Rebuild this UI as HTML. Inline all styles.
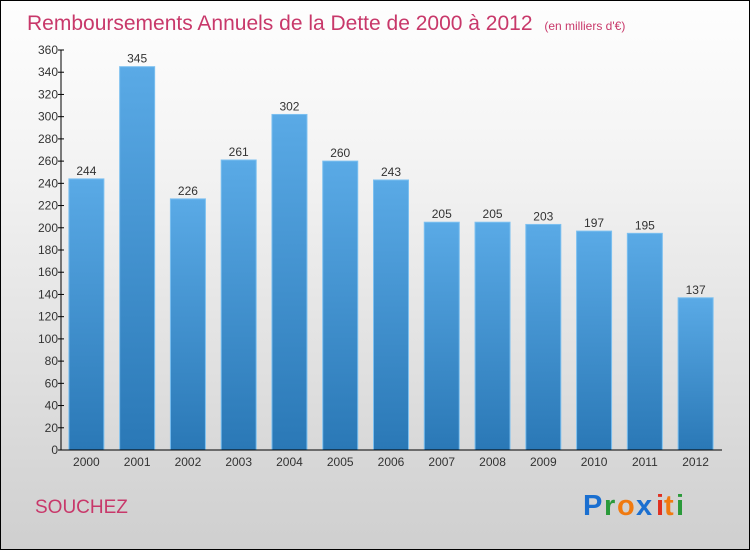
<!DOCTYPE html>
<html><head><meta charset="utf-8"><style>
body{margin:0}
#c{width:750px;height:550px;position:relative;box-sizing:border-box;border:1px solid #000;background:linear-gradient(#fefefe,#f3f3f3 30%,#cfcfcf);font-family:"Liberation Sans",sans-serif;overflow:hidden}
</style></head><body>
<div id="c">
<svg width="750" height="550" style="position:absolute;left:-1px;top:-1px">
<defs><linearGradient id="bg" x1="0" y1="0" x2="0" y2="1"><stop offset="0" stop-color="#5aaae6"/><stop offset="1" stop-color="#2a78b6"/></linearGradient></defs>
<text x="27" y="30" font-size="21" fill="#c8386a">Remboursements Annuels de la Dette de 2000 à 2012 <tspan font-size="12" dx="6">(en milliers d'€)</tspan></text>
<g id="plot"></g>
<text x="35" y="513" font-size="19" fill="#c8386a">SOUCHEZ</text>
<g font-size="29" font-family="'Liberation Sans',sans-serif" font-weight="bold">
<text x="583" y="515" fill="#1a6fd0">P</text><text x="604" y="515" fill="#2a9a3a">r</text><text x="617" y="515" fill="#f07a10">o</text><text x="636" y="515" fill="#1a6fd0">x</text><text x="656" y="515" fill="#e03020">i</text><text x="664" y="515" fill="#f07a10">t</text><text x="676" y="515" fill="#2a9a3a">i</text>
</g>
</svg>
</div>
<script>
const categories=["2000","2001","2002","2003","2004","2005","2006","2007","2008","2009","2010","2011","2012"];
const values=[244,345,226,261,302,260,243,205,205,203,197,195,137];
const yTicks=[0,20,40,60,80,100,120,140,160,180,200,220,240,260,280,300,320,340,360];
const NS="http://www.w3.org/2000/svg";
const g=document.getElementById('plot');
const x0=62,x1=722,y0=450,y1=50,ymax=360;
const step=(x1-x0)/categories.length;
const y=v=>y0-(v/ymax)*(y0-y1);
const xc=i=>x0+step*(i+0.5)-1;
function mk(t,a){const e=document.createElementNS(NS,t);for(const k in a)e.setAttribute(k,a[k]);g.appendChild(e);return e;}
values.forEach((v,i)=>{
 const r=mk('rect',{x:xc(i)-17.5,y:y(v),width:35,height:y0-y(v),fill:'url(#bg)',stroke:'#7cc0f0','stroke-width':1});
 
 
 const t=mk('text',{x:xc(i),y:y(v)-4,'text-anchor':'middle','font-size':12,fill:'#333'});
 t.textContent=v;
 
 
 const xl=mk('text',{x:xc(i),y:466,'text-anchor':'middle','font-size':12,fill:'#333'});
 xl.textContent=categories[i];
 
 
});
const ya=mk('line',{x1:x0-1,y1:y1,x2:x0-1,y2:y0,stroke:'#000'});


const xa=mk('line',{x1:x0-1,y1:y0,x2:x1,y2:y0,stroke:'#000'});


yTicks.forEach(v=>{
 mk('line',{x1:x0-4,y1:y(v),x2:x0+2,y2:y(v),stroke:'#000'});
 const t=mk('text',{x:x0-4,y:y(v)+4,'text-anchor':'end','font-size':12,fill:'#333'});
 t.textContent=v;
 
 
});
</script>
</body></html>
